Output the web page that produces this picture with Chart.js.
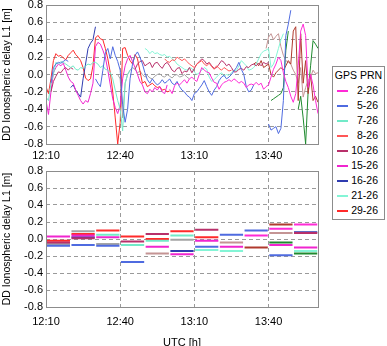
<!DOCTYPE html>
<html>
<head>
<meta charset="utf-8">
<script src="https://cdn.jsdelivr.net/npm/chart.js@4"></script>
<style>
  body { margin: 0; width: 387px; height: 346px; overflow: hidden; background: #fff; position: relative;
         font-family: "Liberation Sans", Arial, sans-serif; }
  #topChart { position: absolute; left: 0; top: 0; }
  #bottomChart { position: absolute; left: 0; top: 160px; }
  #legend { position: absolute; left: 332px; top: 66px; width: 51px; height: 152px;
            border: 1px solid #8c8c8c; background: #fff; font-size: 10.5px; color: #000; }
  #legend .title { height: 16px; line-height: 16px; text-align: center; }
  #legend .item { position: relative; height: 15px; line-height: 15px; text-align: right; padding-right: 6px; }
  #legend .item span { position: absolute; left: 4px; top: 7px; width: 11px; height: 2px; }
</style>
</head>
<body>
<canvas id="topChart" width="322" height="160"></canvas>
<canvas id="bottomChart" width="322" height="190"></canvas>
<div id="legend"><div class="title">GPS PRN</div></div>
<script>
// x axis in minutes after 12:10
const tickMinutes = [0, 30, 60, 90];
const tickLabels = ['12:10', '12:40', '13:10', '13:40'];
const binStarts = [0, 10, 20, 30, 40, 50, 60, 70, 80, 90, 100];
const binWidth = 10;

// top panel: one value per minute, [start minute, values]
const prn2 = [[50, [-0.17, -0.22, -0.13, -0.1, -0.12, -0.09, -0.06, -0.1, -0.05, -0.03,
  -0.06, -0.08, 0.0, 0.08, 0.05, 0.03, 0.02, -0.04, -0.09, -0.1,
  -0.17, -0.12, -0.09, -0.08, -0.06, -0.08, -0.05, -0.07, -0.1, -0.08,
  -0.1, -0.15, -0.12, -0.11, -0.12, -0.09, -0.12, -0.1, -0.17, -0.14,
  -0.12, -0.03, 0.06, 0.12, 0.2, 0.16, 0.02, -0.08, -0.15, -0.25,
  -0.32, -0.22, 0.1, 0.5, 0.58, 0.45, -0.15, 0.0, -0.12, -0.3, -0.45]]];
const prn5 = [
  [2, [-0.1, 0.08, 0.12, 0.14, 0.13, 0.15, 0.17, 0.15]],
  [20, [-0.05, -0.1, -0.14, 0.05, 0.25, 0.3, 0.18, 0.32, 0.22, 0.15,
    0.05, -0.35, -0.55, -0.4, -0.05, 0.12, 0.22, 0.26, 0.2, 0.12,
    0.02, -0.06, -0.1, -0.05, -0.09, -0.12, -0.1, -0.06, -0.1, -0.08,
    -0.05, -0.1, -0.12, -0.08, -0.14, -0.18, -0.2, -0.24, -0.26, -0.3,
    -0.22, -0.2, -0.16, -0.12, -0.07, -0.14, -0.2, -0.24, -0.18, -0.14,
    -0.07, -0.03, -0.01, -0.05, -0.03, 0.0, 0.04, 0.08, 0.14, 0.06,
    0.0, -0.14, -0.2, -0.18, -0.12]],
  [90, [-0.57, -0.64, -0.62, -0.6, -0.68, -0.62, -0.3, 0.45, 0.58, 0.74]]
];
const prn7 = [[0, [-0.26, -0.3, -0.1, 0.0, 0.14, 0.12, 0.15, 0.14, 0.12, 0.1,
  0.08, 0.1, 0.06, 0.05, 0.08, 0.07, 0.1, 0.12, 0.11, 0.14,
  0.14, 0.12, 0.08, 0.1, 0.06, 0.05, 0.02, -0.05, -0.18, -0.3,
  -0.4, -0.65, -0.1, 0.0, 0.05]]];
const prn8 = [[48, [0.18, 0.15, 0.14, 0.17, 0.16, 0.2, 0.18, 0.16, 0.18, 0.15,
  0.12, 0.1, 0.08, 0.12, 0.14, 0.16, 0.12, 0.1, 0.13, 0.09,
  0.06, 0.1, 0.07, 0.05, 0.08, 0.06, 0.04, 0.05]]];
const prn10 = [
  [2, [-0.2, -0.08, -0.02, 0.03, 0.02, 0.06, 0.08, 0.05, 0.08, 0.06]],
  [36, [0.06, 0.12, 0.15, 0.16, 0.1, 0.12, 0.14, 0.08, 0.13, 0.14,
    0.1, 0.07, 0.12, 0.14, 0.1, 0.05, 0.03, 0.07, 0.08, 0.01,
    0.04, 0.03, 0.08, 0.02, 0.07, 0.12, 0.15, 0.18, 0.16, 0.12,
    0.14, 0.1, 0.07, 0.08, 0.12, 0.16, 0.14, 0.1, 0.12, 0.08,
    0.03, 0.03, 0.06, 0.07, 0.05, 0.09, 0.08, 0.11, 0.12, 0.1,
    0.13, 0.1, 0.14, 0.12, 0.14]]
];
const prn15 = [[0, [-0.3, -0.46, -0.2, 0.02, 0.08, 0.12, 0.1, 0.13, 0.05, -0.03,
  -0.08, -0.1, -0.18, -0.24, -0.3, -0.34, -0.3, -0.32, -0.22, -0.1,
  0.32, 0.37, 0.35, 0.28, 0.2, 0.05, -0.12, -0.28, -0.38, -0.45,
  -0.35, -0.05, 0.1, 0.18, 0.22, 0.15, 0.08, 0.0, -0.08, -0.12,
  -0.2, -0.22, -0.17, -0.2, -0.15, -0.18, -0.14, -0.2, -0.22, -0.12]]];
const prn16 = [[10, [-0.15, -0.12, -0.18, -0.22, -0.26, -0.05, 0.12, 0.3, 0.36, 0.4, 0.55]]];
const prn21 = [[40, [0.3, 0.28, 0.24, 0.27, 0.24, 0.25, 0.23, 0.22, 0.23, 0.2,
  0.21, 0.18, 0.16, 0.12, 0.1, 0.08, 0.06, 0.05, 0.08, 0.07,
  0.03, 0.0, 0.02, 0.05, 0.08, 0.06, -0.03, -0.08, -0.06, -0.03,
  0.0, 0.02, -0.02, 0.0, -0.01, 0.02, 0.05, 0.04, 0.1, 0.16,
  0.13, 0.1, 0.05, 0.06, 0.08, 0.12, 0.18, 0.24, 0.27, 0.28,
  0.3, 0.08, 0.12, 0.2, 0.3, 0.4, 0.47]]];
const prn29 = [[0, [-0.14, -0.22, -0.05, 0.16, 0.24, 0.21, 0.22, 0.19, 0.17, 0.22,
  0.25, 0.28, 0.23, 0.2, 0.16, 0.08, -0.04, -0.07, -0.05, 0.1,
  0.42, 0.45, 0.41, 0.4, 0.3, 0.18, 0.02, -0.2, -0.5, -0.8,
  -0.55, 0.3, 0.31, 0.22, 0.16, 0.12, 0.23, 0.18, 0.04, -0.1,
  -0.08, -0.14, -0.12, -0.1, -0.13, -0.15, -0.14, -0.18, -0.17, -0.2, -0.19]]];
// other pairs (not in the legend)
const grayTop = [[29, [0.0, -0.05, -0.5, -0.1, 0.0, 0.05, 0.08, 0.06, 0.02, 0.04,
  0.0, -0.03, -0.01, -0.04, -0.05, -0.02, 0.0, 0.01, -0.02, -0.03,
  0.0, -0.02, -0.04, -0.01, 0.0, -0.03, -0.02, 0.0, -0.03, -0.05]]];
const brownTop = [[84, [0.12, 0.14, 0.1, 0.16, 0.08, 0.1, 0.12, 0.0, -0.03, 0.02,
  0.05, 0.08, 0.05, 0.1, 0.16, 0.12, 0.5, 0.55, -0.3, 0.47,
  -0.1, 0.16, -0.22, 0.0, -0.3, -0.25, -0.32]]];
const rosyTop = [[89, [0.3, 0.43, 0.47, 0.4, 0.44, 0.47, 0.32, 0.22, 0.16, 0.14,
  0.12, 0.05, 0.0, -0.1, 0.08, -0.26, -0.15, -0.07, -0.03, 0.05, 0.01, 0.02]]];
const greenTop = [[91, [-0.3, -0.28, -0.26, -0.24, -0.22, -0.15, 0.28, 0.5, null, null,
  null, -0.4, -0.25, -0.5, -0.8, -0.2, 0.1, 0.39, 0.35, 0.3]]];

// bottom panel: one value per 10-min bin
const prn2Bins  = [null, null, null, null, null, null, null, null, 0.04, 0.12, 0.17];
const prn5Bins  = [-0.08, -0.07, -0.08, -0.27, null, null, -0.09, 0.05, 0.1, -0.19, null];
const prn7Bins  = [null, null, 0.05, -0.07, -0.02, 0.04, null, null, null, null, null];
const prn8Bins  = [null, null, null, null, null, null, null, null, null, null, null];
const prn10Bins = [-0.04, 0.01, null, -0.03, 0.06, null, 0.11, null, null, null, 0.07];
const prn15Bins = [0.03, 0.04, 0.02, null, -0.09, -0.18, -0.02, -0.09, null, -0.07, -0.1];
const prn16Bins = [null, 0.02, null, null, null, -0.14, null, null, null, null, 0.08];
const prn21Bins = [null, null, null, null, null, null, -0.13, -0.14, null, null, -0.14];
const prn29Bins = [-0.02, 0.06, 0.1, 0.03, 0.0, 0.09, 0.02, null, null, null, null];
const grayBins  = [-0.06, 0.09, -0.06, null, null, -0.01, null, null, null, null, null];
const brownBins = [null, null, null, null, null, null, null, null, -0.1, 0.17, null];
const rosyBins  = [null, null, null, null, -0.17, null, null, -0.04, null, 0.07, null];
const greenBins = [null, null, null, null, null, null, null, null, null, -0.04, -0.17];

const series = [
  { label: '2-26',  color: '#ff2bd6', top: prn2,  bins: prn2Bins },
  { label: '5-26',  color: '#4f6be0', top: prn5,  bins: prn5Bins },
  { label: '7-26',  color: '#72eac8', top: prn7,  bins: prn7Bins },
  { label: '8-26',  color: '#ff5656', top: prn8,  bins: prn8Bins },
  { label: '10-26', color: '#b8306a', top: prn10, bins: prn10Bins },
  { label: '15-26', color: '#f025cf', top: prn15, bins: prn15Bins },
  { label: '16-26', color: '#2f3cb0', top: prn16, bins: prn16Bins },
  { label: '21-26', color: '#84f5d6', top: prn21, bins: prn21Bins },
  { label: '29-26', color: '#ff2a2a', top: prn29, bins: prn29Bins },
  { label: null, color: '#a4a4a4', top: grayTop,  bins: grayBins },
  { label: null, color: '#b03a2e', top: brownTop, bins: brownBins },
  { label: null, color: '#c49494', top: rosyTop,  bins: rosyBins },
  { label: null, color: '#1f8a2f', top: greenTop, bins: greenBins }
];

function topPoints(segs) {
  const pts = [];
  segs.forEach(([start, vals]) => {
    vals.forEach((v, i) => pts.push({ x: start + i, y: v }));
    pts.push({ x: start + vals.length - 0.5, y: null });
  });
  return pts;
}

function binPoints(vals) {
  const pts = [];
  vals.forEach((v, i) => {
    if (v === null) return;
    pts.push({ x: binStarts[i] + 0.3, y: v }, { x: binStarts[i] + binWidth - 0.3, y: v }, { x: binStarts[i] + binWidth, y: null });
  });
  return pts;
}

Chart.defaults.font.family = '"Liberation Sans", Arial, sans-serif';
Chart.defaults.color = '#000';

const frame = {
  id: 'frame',
  afterDatasetsDraw(chart) {
    const a = chart.chartArea, ctx = chart.ctx;
    ctx.save();
    ctx.strokeStyle = '#8c8c8c';
    ctx.lineWidth = 1;
    ctx.strokeRect(Math.round(a.left) + 0.5, Math.round(a.top) + 0.5, Math.round(a.right - a.left), Math.round(a.bottom - a.top));
    ctx.restore();
  }
};

function makeChart(id, datasets, xHeight, xTitle, tickPad, padTop) {
  return new Chart(document.getElementById(id), {
    type: 'line',
    data: { datasets: datasets },
    options: {
      responsive: false,
      animation: false,
      devicePixelRatio: 1,
      spanGaps: false,
      layout: { padding: { top: padTop, right: 4, left: 0, bottom: 0 } },
      plugins: { legend: { display: false }, tooltip: { enabled: false } },
      elements: { point: { radius: 0 }, line: { tension: 0 } },
      scales: {
        x: {
          type: 'linear', min: 0, max: 110,
          afterBuildTicks: s => { s.ticks = tickMinutes.map(v => ({ value: v })); },
          afterFit: s => { s.height = xHeight; s.paddingLeft = 0; s.paddingRight = 0; },
          ticks: { font: { size: 11 }, padding: tickPad, maxRotation: 0, autoSkip: false,
                   callback: v => tickLabels[tickMinutes.indexOf(v)] },
          grid: { color: '#9a9a9a', drawTicks: false },
          border: { display: false, dash: [4, 3] },
          title: { display: !!xTitle, text: xTitle, font: { size: 11 }, padding: 0 }
        },
        y: {
          min: -0.8, max: 0.8,
          afterFit: s => { s.width = 46; s.paddingTop = 0; s.paddingBottom = 0; },
          ticks: { stepSize: 0.2, font: { size: 11 }, padding: 3, callback: v => v.toFixed(1) },
          grid: { color: '#9a9a9a', drawTicks: false },
          border: { display: false, dash: [4, 3] },
          title: { display: true, text: 'DD Ionospheric delay L1 [m]', font: { size: 10.5 }, padding: { top: 1, bottom: 0 } }
        }
      }
    },
    plugins: [frame]
  });
}

makeChart('topChart', series.map(s => ({
  data: topPoints(s.top), borderColor: s.color, borderWidth: 1
})), 16, '', 5, 5);

makeChart('bottomChart', series.map(s => ({
  data: binPoints(s.bins), borderColor: s.color, borderWidth: 2
})), 43, 'UTC [h]', 8, 11);

// legend
const legend = document.getElementById('legend');
series.filter(s => s.label).forEach(s => {
  const row = document.createElement('div');
  row.className = 'item';
  row.innerHTML = '<span style="background:' + s.color + '"></span>' + s.label;
  legend.appendChild(row);
});
</script>
</body>
</html>
